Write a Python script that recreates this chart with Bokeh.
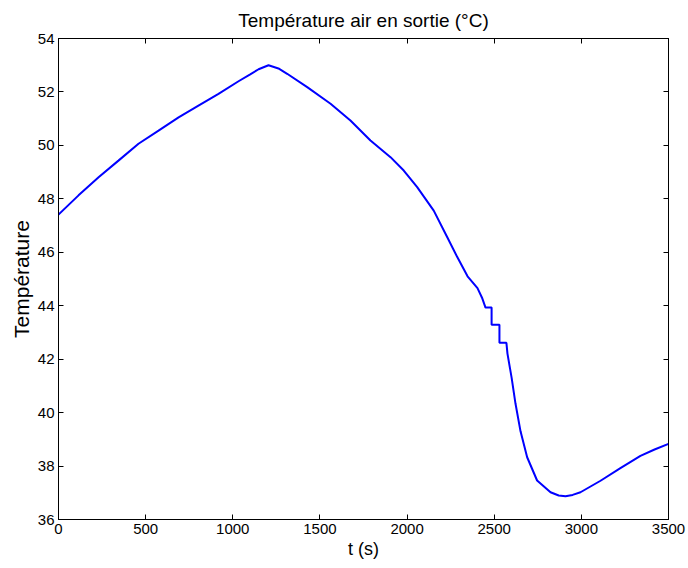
from bokeh.plotting import figure
from bokeh.models import LinearAxis, Range1d, FixedTicker, ColumnDataSource
from bokeh.embed import file_html
from bokeh.resources import INLINE

t_s = [0, 115, 230, 344, 459, 574, 689, 803, 918, 1033, 1100, 1148, 1205, 1262, 1312,
       1427, 1561, 1675, 1790, 1905, 1981, 2058, 2153, 2230, 2288, 2347, 2404, 2430,
       2450, 2485, 2485, 2530, 2530, 2570, 2576, 2600, 2622, 2651, 2689, 2746, 2823,
       2870, 2909, 2950, 2995, 3110, 3224, 3339, 3420, 3500]
temp = [47.41, 48.13, 48.81, 49.43, 50.06, 50.55, 51.05, 51.49, 51.93, 52.4, 52.66, 52.85, 53.0, 52.88, 52.68,
        52.18, 51.56, 50.93, 50.18, 49.56, 49.06, 48.44, 47.56, 46.57, 45.82, 45.1, 44.66, 44.3,
        43.93, 43.93, 43.29, 43.29, 42.61, 42.61, 42.21, 41.3, 40.34, 39.3, 38.33, 37.46, 37.02,
        36.9, 36.87, 36.92, 37.02, 37.45, 37.92, 38.38, 38.62, 38.83]

x_ticks = [0, 500, 1000, 1500, 2000, 2500, 3000, 3500]
y_ticks = [36, 38, 40, 42, 44, 46, 48, 50, 52, 54]

FONT = "Liberation Sans"

p = figure(width=688, height=568, output_backend="svg", toolbar_location=None,
           x_range=Range1d(0, 3500), y_range=Range1d(36, 54),
           x_axis_location=None, y_axis_location=None,
           min_border_left=58, min_border_right=20, min_border_top=38, min_border_bottom=49)

p.title.text = "Température air en sortie (°C)"
p.title.text_font = FONT
p.title.text_font_size = "19px"
p.title.text_font_style = "normal"
p.title.text_color = "black"
p.title.align = "center"
p.title.standoff = 15

p.grid.visible = False
p.outline_line_color = "black"
p.outline_line_width = 1

def make_axis(ticks, labels=True, label_text=None, label_size="17px"):
    ax = LinearAxis(ticker=FixedTicker(ticks=ticks))
    ax.major_tick_in = 5
    ax.major_tick_out = 0
    ax.minor_tick_line_color = None
    ax.axis_line_color = "black"
    ax.major_tick_line_color = "black"
    ax.major_label_text_font = FONT
    ax.major_label_text_color = "black"
    if labels:
        ax.major_label_text_font_size = "15px"
        ax.major_label_standoff = 4
    else:
        ax.major_label_overrides = {t: "" for t in ticks}
        ax.major_label_standoff = 0
    if label_text:
        ax.axis_label = label_text
        ax.axis_label_text_font = FONT
        ax.axis_label_text_font_size = label_size
        ax.axis_label_text_font_style = "normal"
        ax.axis_label_text_color = "black"
        ax.axis_label_standoff = 2
    return ax

p.add_layout(make_axis(x_ticks, True, "t (s)", "18px"), "below")
p.add_layout(make_axis(y_ticks, True, "Température", "21px"), "left")
p.add_layout(make_axis(x_ticks, False), "above")
p.add_layout(make_axis(y_ticks, False), "right")

src = ColumnDataSource(data=dict(t=t_s, T=temp))
p.line("t", "T", source=src, line_color="#0000ff", line_width=2)

open("out.html", "w").write(file_html(p, INLINE))
